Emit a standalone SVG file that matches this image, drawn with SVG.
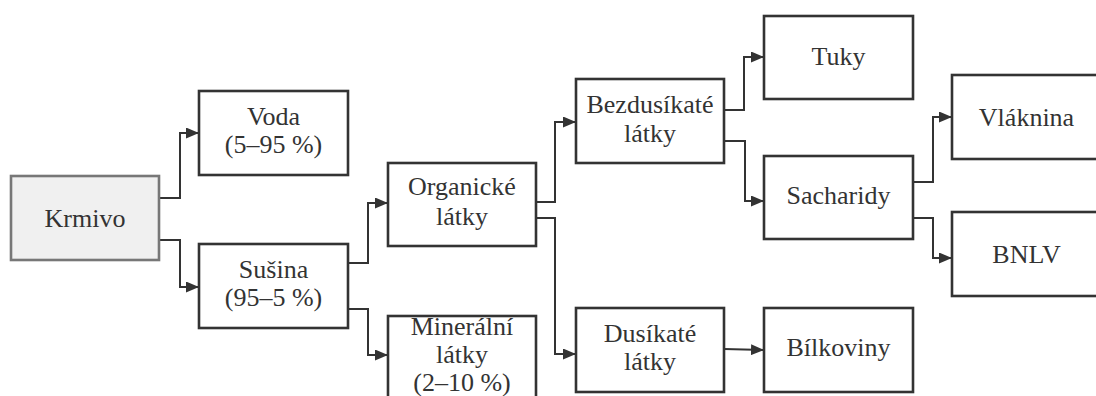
<svg xmlns="http://www.w3.org/2000/svg" width="1096" height="396" viewBox="0 0 1096 396" font-family="Liberation Serif, Times New Roman, serif">
<defs>
<style>
.box{fill:#ffffff;stroke:#333333;stroke-width:2.6}
.root{fill:#f0f0f0;stroke:#777777;stroke-width:2.6}
.lbl{font-size:26px;fill:#333333;text-anchor:middle}
.con{fill:none;stroke:#333333;stroke-width:2;marker-end:url(#arr)}
</style>
<marker id="arr" viewBox="0 0 13 11" refX="13" refY="5.5" markerWidth="13" markerHeight="11" markerUnits="userSpaceOnUse" orient="auto">
<path d="M0,0 L13,5.5 L0,11 z" fill="#333333"/>
</marker>
</defs>
<rect width="1096" height="396" fill="#ffffff"/>
<g id="connectors">
<path class="con" d="M159,198 H180 V133 H199"/>
<path class="con" d="M159,240 H180 V287 H199"/>
<path class="con" d="M348,263 H368 V203 H388"/>
<path class="con" d="M348,309 H368 V355 H388"/>
<path class="con" d="M536,202 H555 V122 H576"/>
<path class="con" d="M536,218 H555 V354 H576"/>
<path class="con" d="M724,110 H744 V57 H764"/>
<path class="con" d="M724,141 H745 V201 H764"/>
<path class="con" d="M913,182 H933 V117 H952"/>
<path class="con" d="M913,218 H933 V258 H952"/>
<path class="con" d="M724,349 L764,350"/>
</g>
<g id="krmivo"><rect class="root" x="11" y="176" width="148" height="84"/><text class="lbl" x="85" y="227" font-family="Liberation Serif, serif">Krmivo</text></g>
<g id="voda"><rect class="box" x="199" y="91" width="149" height="84"/><text class="lbl" x="273.5" y="125">Voda</text><text class="lbl" x="273.5" y="153">(5–95 %)</text></g>
<g id="susina"><rect class="box" x="199" y="244" width="149" height="84"/><text class="lbl" x="273.5" y="278">Sušina</text><text class="lbl" x="273.5" y="306">(95–5 %)</text></g>
<g id="organicke"><rect class="box" x="388" y="163" width="148" height="83"/><text class="lbl" x="462" y="195">Organické</text><text class="lbl" x="462" y="225">látky</text></g>
<g id="mineralni"><rect class="box" x="388" y="316" width="148" height="100"/><text class="lbl" x="462" y="335">Minerální</text><text class="lbl" x="462" y="363">látky</text><text class="lbl" x="462" y="391">(2–10 %)</text></g>
<g id="bezdusikate"><rect class="box" x="576" y="79" width="148" height="84"/><text class="lbl" x="650" y="113">Bezdusíkaté</text><text class="lbl" x="650" y="142">látky</text></g>
<g id="dusikate"><rect class="box" x="576" y="308" width="148" height="84"/><text class="lbl" x="650" y="342">Dusíkaté</text><text class="lbl" x="650" y="370">látky</text></g>
<g id="tuky"><rect class="box" x="764" y="16" width="149" height="83"/><text class="lbl" x="838.5" y="65">Tuky</text></g>
<g id="sacharidy"><rect class="box" x="764" y="156" width="149" height="83"/><text class="lbl" x="838.5" y="204">Sacharidy</text></g>
<g id="bilkoviny"><rect class="box" x="764" y="308" width="149" height="84"/><text class="lbl" x="838.5" y="356">Bílkoviny</text></g>
<g id="vlaknina"><rect class="box" x="952" y="75" width="149" height="84"/><text class="lbl" x="1026.5" y="126">Vláknina</text></g>
<g id="bnlv"><rect class="box" x="952" y="212" width="149" height="84"/><text class="lbl" x="1026.5" y="263">BNLV</text></g>
</svg>
